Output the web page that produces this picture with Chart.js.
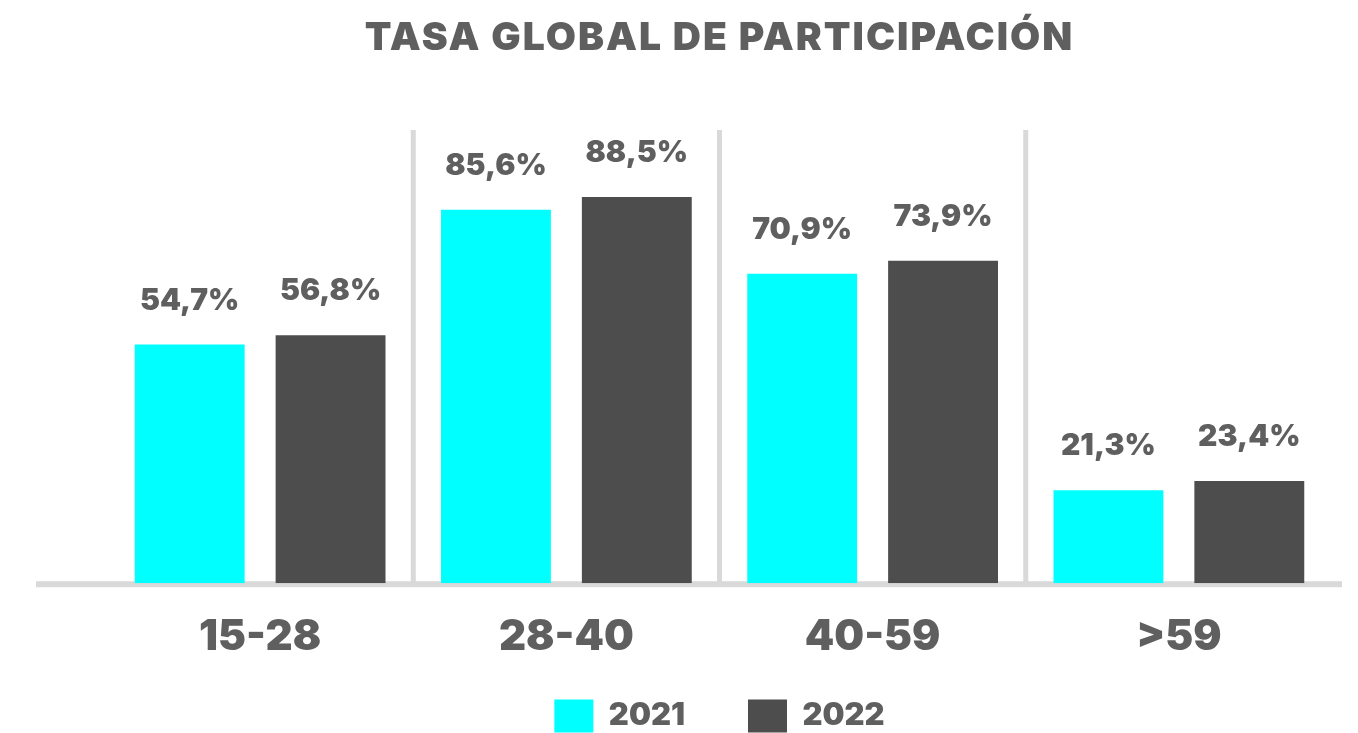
<!DOCTYPE html>
<html>
<head>
<meta charset="utf-8">
<script src="https://cdn.jsdelivr.net/npm/chart.js@4.4.0/dist/chart.umd.min.js"></script>
<style>
  html, body { margin: 0; padding: 0; background: #ffffff; }
  #wrap { width: 1358px; height: 733px; position: relative; }
</style>
</head>
<body>
<div id="wrap"><canvas id="c" width="1358" height="733"></canvas></div>
<script>
const categories = ['15-28', '28-40', '40-59', '>59'];
const series2021 = [54.7, 85.6, 70.9, 21.3];
const series2022 = [56.8, 88.5, 73.9, 23.4];
const seriesNames = ['2021', '2022'];
const titleText = 'TASA GLOBAL DE PARTICIPACIÓN';

const FONT = 'Inter, "Noto Sans", sans-serif';
const TEXT = '#5f5f5f';
const GRID = '#d9d9d9';

const decor = {
  id: 'decor',
  afterLayout(chart) {
    // let the category labels extend below the (short) axis box without clipping
    chart.scales.x.bottom = chart.height;
  },
  beforeDraw(chart) {
    const tb = chart.titleBlock;
    if (tb && !tb._spaced) {
      const orig = tb.draw.bind(tb);
      tb.draw = function (area) {
        const c = this.ctx;
        const prev = c.letterSpacing;
        c.letterSpacing = '2px';
        orig(area);
        c.letterSpacing = prev;
      };
      tb._spaced = true;
    }
  },
  beforeDatasetsDraw(chart) {
    const ctx = chart.ctx;
    const x = chart.scales.x;
    const y = chart.scales.y;
    const base = y.getPixelForValue(0);
    ctx.save();
    ctx.strokeStyle = GRID;
    ctx.lineWidth = 6;
    ctx.beginPath();
    ctx.moveTo(36, base + 1);
    ctx.lineTo(1342, base + 1);
    ctx.stroke();
    ctx.lineWidth = 5;
    for (let i = 1; i < categories.length; i++) {
      const px = (x.getPixelForValue(i - 1) + x.getPixelForValue(i)) / 2;
      ctx.beginPath();
      ctx.moveTo(px, 130);
      ctx.lineTo(px, base);
      ctx.stroke();
    }
    ctx.restore();
  },
  afterDatasetsDraw(chart) {
    const ctx = chart.ctx;
    ctx.save();
    ctx.fillStyle = TEXT;
    ctx.font = '900 30px ' + FONT;
    ctx.textAlign = 'center';
    ctx.textBaseline = 'middle';
    chart.data.datasets.forEach((ds, di) => {
      const meta = chart.getDatasetMeta(di);
      meta.data.forEach((bar, i) => {
        const v = ds.data[i];
        ctx.fillText(v.toFixed(1).replace('.', ',') + '%', bar.x, bar.y - 44);
      });
    });
    ctx.restore();
  }
};

new Chart(document.getElementById('c'), {
  type: 'bar',
  data: {
    labels: categories,
    datasets: [
      { label: seriesNames[0], data: series2021, backgroundColor: '#00ffff', borderWidth: 0 },
      { label: seriesNames[1], data: series2022, backgroundColor: '#4d4d4d', borderWidth: 0 }
    ]
  },
  options: {
    responsive: false,
    animation: false,
    layout: { padding: { left: 107, right: 26, top: 0, bottom: -9.6 } },
    datasets: { bar: { categoryPercentage: 0.92, barPercentage: 0.78 } },
    scales: {
      x: {
        grid: { display: false, drawTicks: false },
        border: { display: false },
        ticks: { color: TEXT, font: { family: FONT, size: 42, weight: 900 }, padding: 29 },
        afterFit(scale) { scale.height = 53.4; }
      },
      y: { display: false, min: 0, max: 100 }
    },
    plugins: {
      title: {
        display: true,
        text: titleText,
        color: TEXT,
        font: { family: FONT, size: 39, weight: 900 },
        padding: { top: 15, bottom: 85 }
      },
      legend: {
        position: 'bottom',
        labels: {
          color: TEXT,
          font: { family: FONT, size: 31, weight: 900 },
          boxWidth: 39,
          boxHeight: 33,
          padding: 63,
          generateLabels(chart) {
            const items = Chart.defaults.plugins.legend.labels.generateLabels(chart);
            items.forEach(it => { it.lineWidth = 0; });
            return items;
          }
        }
      },
      tooltip: { enabled: false }
    }
  },
  plugins: [decor]
});
</script>
</body>
</html>
